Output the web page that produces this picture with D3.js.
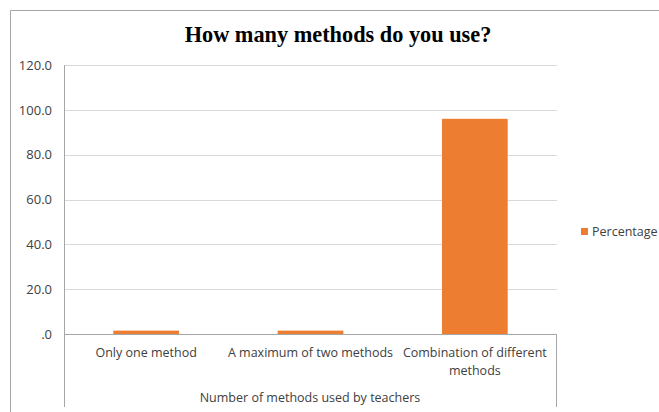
<!DOCTYPE html>
<html>
<head>
<meta charset="utf-8">
<script src="https://cdn.jsdelivr.net/npm/d3@7"></script>
<style>
  body { margin: 0; background: #fff; }
  text { font-family: "Open Sans", "Noto Sans", sans-serif; fill: #404040; }
</style>
</head>
<body>
<div class="chart"></div>
<script>
// chart data
var categories = ["Only one method", "A maximum of two methods", "Combination of different methods"];
var percentages = [1.5, 1.5, 96.0];
var yTicks = [0, 20, 40, 60, 80, 100, 120];
var seriesName = "Percentage";

var svgWidth = 659;
var svgHeight = 412;

var margin = { top: 65, right: 102, bottom: 78, left: 64 };
var width = svgWidth - margin.left - margin.right;   // 493
var height = svgHeight - margin.top - margin.bottom; // 269

var svg = d3.select(".chart")
  .append("svg")
  .attr("width", svgWidth)
  .attr("height", svgHeight);

// outer chart frame (cropped on right/bottom)
svg.append("path")
  .attr("d", "M10.5," + svgHeight + "V10.5H" + svgWidth)
  .attr("fill", "none")
  .attr("stroke", "#a6a6a6")
  .attr("stroke-width", 1);

// title
svg.append("text")
  .attr("x", 338)
  .attr("y", 42)
  .attr("text-anchor", "middle")
  .style("font-family", "'Liberation Serif', 'Times New Roman', serif")
  .style("font-weight", "bold")
  .style("font-size", "22.3px")
  .style("fill", "#000")
  .text("How many methods do you use?");

var chartGroup = svg.append("g")
  .attr("transform", `translate(${margin.left}, ${margin.top})`);

var xScale = d3.scaleBand()
  .domain(categories)
  .range([0, width])
  .paddingInner(0.6)
  .paddingOuter(0.3);

var yScale = d3.scaleLinear()
  .domain([0, 120])
  .range([height, 0]);

// gridlines
chartGroup.append("g")
  .selectAll("line")
  .data(yTicks.filter(d => d > 0))
  .enter().append("line")
  .attr("x1", 0)
  .attr("x2", width)
  .attr("y1", d => Math.round(yScale(d)) + 0.5)
  .attr("y2", d => Math.round(yScale(d)) + 0.5)
  .attr("stroke", "#d9d9d9");

// y tick labels
var leftAxis = d3.axisLeft(yScale)
  .tickValues(yTicks)
  .tickSize(0)
  .tickPadding(12)
  .tickFormat(d => d === 0 ? ".0" : d3.format(".1f")(d));

var yAxis = chartGroup.append("g").call(leftAxis);
yAxis.select(".domain").remove();
yAxis.selectAll("text")
  .style("font-family", "'Open Sans', sans-serif")
  .style("font-size", "13px")
  .attr("fill", "#404040");

// bars
chartGroup.selectAll(".bar")
  .data(percentages)
  .enter().append("rect")
  .attr("class", "bar")
  .attr("x", (d, i) => xScale(categories[i]))
  .attr("width", xScale.bandwidth())
  .attr("y", d => yScale(d))
  .attr("height", d => height - yScale(d))
  .attr("fill", "#ed7d31");

// axis lines: left, baseline, right end of category area
var axisColor = "#a6a6a6";
chartGroup.append("line")
  .attr("x1", 0.5).attr("x2", 0.5)
  .attr("y1", 0).attr("y2", height + 73)
  .attr("stroke", axisColor);
chartGroup.append("line")
  .attr("x1", 0).attr("x2", width)
  .attr("y1", height + 0.5).attr("y2", height + 0.5)
  .attr("stroke", axisColor);
chartGroup.append("line")
  .attr("x1", width - 0.5).attr("x2", width - 0.5)
  .attr("y1", height).attr("y2", height + 73)
  .attr("stroke", axisColor);

// category labels (wrapped like excel)
var labelLines = [["Only one method"], ["A maximum of two methods"], ["Combination of different", "methods"]];
var catLabels = chartGroup.append("g")
  .selectAll("text")
  .data(categories)
  .enter().append("text")
  .attr("x", d => xScale(d) + xScale.bandwidth() / 2)
  .attr("y", height + 23)
  .attr("text-anchor", "middle")
  .style("font-size", "12.5px");

catLabels.each(function(d, i) {
  var t = d3.select(this);
  labelLines[i].forEach(function(line, j) {
    t.append("tspan")
      .attr("x", xScale(d) + xScale.bandwidth() / 2)
      .attr("dy", j === 0 ? 0 : 18)
      .text(line);
  });
});

// x axis title
chartGroup.append("text")
  .attr("x", 246)
  .attr("y", height + 68)
  .attr("text-anchor", "middle")
  .style("font-size", "12.5px")
  .text("Number of methods used by teachers");

// legend
var legend = svg.append("g")
  .attr("transform", "translate(581, 228)");
legend.append("rect")
  .attr("width", 7)
  .attr("height", 7)
  .attr("fill", "#ed7d31");
legend.append("text")
  .attr("x", 11)
  .attr("y", 8)
  .style("font-size", "12.5px")
  .text(seriesName);
</script>
</body>
</html>
